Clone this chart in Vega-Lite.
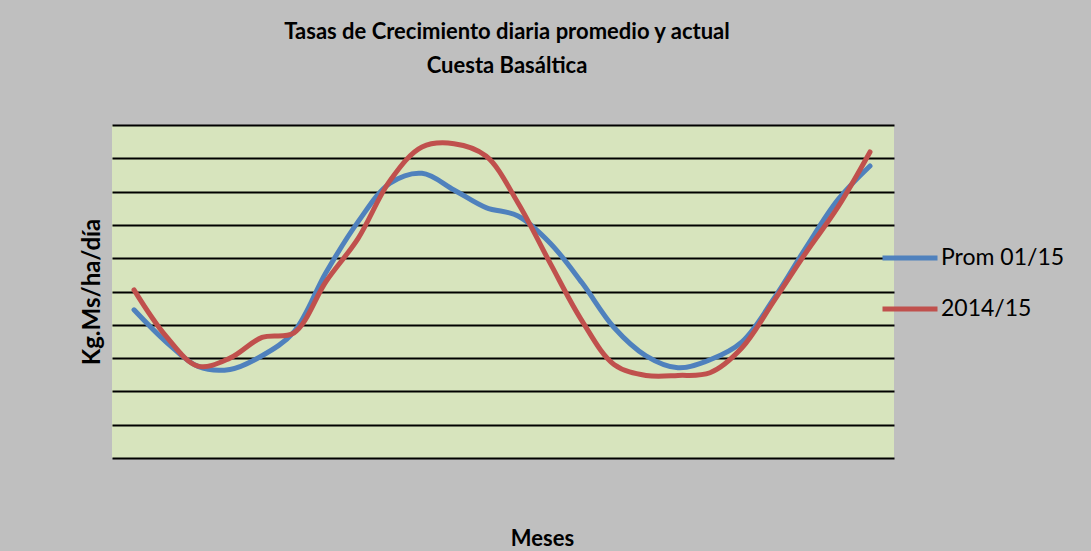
{
  "$schema": "https://vega.github.io/schema/vega-lite/v6.json",
  "width": 782,
  "height": 333,
  "autosize": {"type": "none"},
  "padding": {"left": 112, "top": 125, "right": 197, "bottom": 93},
  "background": "#bfbfbf",
  "title": {
    "text": ["Tasas de Crecimiento  diaria promedio y actual", "Cuesta Basáltica"],
    "font": "Lato", "fontSize": 22, "fontWeight": "bold", "color": "#000000",
    "lineHeight": 34, "anchor": "middle", "offset": 47, "dx": 4
  },
  "config": {
    "view": {"stroke": null, "fill": "#d7e4bd"},
    "legend": {"padding": 0}
  },
  "datasets": {
    "tasas": [
      {"t": 0, "serie": "Prom 01/15", "v": 44.5},
      {"t": 1, "serie": "Prom 01/15", "v": 34.9},
      {"t": 2, "serie": "Prom 01/15", "v": 27.5},
      {"t": 3, "serie": "Prom 01/15", "v": 26.6},
      {"t": 4, "serie": "Prom 01/15", "v": 30.7},
      {"t": 5, "serie": "Prom 01/15", "v": 37.9},
      {"t": 6, "serie": "Prom 01/15", "v": 55.7},
      {"t": 7, "serie": "Prom 01/15", "v": 70.9},
      {"t": 8, "serie": "Prom 01/15", "v": 82.5},
      {"t": 9, "serie": "Prom 01/15", "v": 85.5},
      {"t": 10, "serie": "Prom 01/15", "v": 80.5},
      {"t": 11, "serie": "Prom 01/15", "v": 75.2},
      {"t": 12, "serie": "Prom 01/15", "v": 72.7},
      {"t": 13, "serie": "Prom 01/15", "v": 64.6},
      {"t": 14, "serie": "Prom 01/15", "v": 52.6},
      {"t": 15, "serie": "Prom 01/15", "v": 39.2},
      {"t": 16, "serie": "Prom 01/15", "v": 30.7},
      {"t": 17, "serie": "Prom 01/15", "v": 27.1},
      {"t": 18, "serie": "Prom 01/15", "v": 29.5},
      {"t": 19, "serie": "Prom 01/15", "v": 34.9},
      {"t": 20, "serie": "Prom 01/15", "v": 47.9},
      {"t": 21, "serie": "Prom 01/15", "v": 63.2},
      {"t": 22, "serie": "Prom 01/15", "v": 77.6},
      {"t": 23, "serie": "Prom 01/15", "v": 87.7},
      {"t": 0, "serie": "2014/15", "v": 50.5},
      {"t": 1, "serie": "2014/15", "v": 36.6},
      {"t": 2, "serie": "2014/15", "v": 27.6},
      {"t": 3, "serie": "2014/15", "v": 30.0},
      {"t": 4, "serie": "2014/15", "v": 36.2},
      {"t": 5, "serie": "2014/15", "v": 37.6},
      {"t": 6, "serie": "2014/15", "v": 53.0},
      {"t": 7, "serie": "2014/15", "v": 65.9},
      {"t": 8, "serie": "2014/15", "v": 83.3},
      {"t": 9, "serie": "2014/15", "v": 93.4},
      {"t": 10, "serie": "2014/15", "v": 94.4},
      {"t": 11, "serie": "2014/15", "v": 90.7},
      {"t": 12, "serie": "2014/15", "v": 76.6},
      {"t": 13, "serie": "2014/15", "v": 58.6},
      {"t": 14, "serie": "2014/15", "v": 41.2},
      {"t": 15, "serie": "2014/15", "v": 28.1},
      {"t": 16, "serie": "2014/15", "v": 24.8},
      {"t": 17, "serie": "2014/15", "v": 24.8},
      {"t": 18, "serie": "2014/15", "v": 25.6},
      {"t": 19, "serie": "2014/15", "v": 33.1},
      {"t": 20, "serie": "2014/15", "v": 47.2},
      {"t": 21, "serie": "2014/15", "v": 61.7},
      {"t": 22, "serie": "2014/15", "v": 75.4},
      {"t": 23, "serie": "2014/15", "v": 91.9}
    ]
  },
  "data": {"name": "tasas"},
  "mark": {"type": "line", "interpolate": "catmull-rom", "strokeWidth": 5, "strokeCap": "round", "strokeJoin": "round"},
  "encoding": {
    "x": {
      "field": "t", "type": "quantitative",
      "scale": {"domain": [-0.6875, 23.75], "nice": false, "zero": false},
      "axis": {
        "title": "Meses", "labels": false, "ticks": false, "domain": false, "grid": false,
        "titleFont": "Lato", "titleFontSize": 22, "titleFontWeight": "bold", "titleColor": "#000000",
        "titleX": 430, "titleY": 87, "titleBaseline": "alphabetic", "titleAlign": "center"
      }
    },
    "y": {
      "field": "v", "type": "quantitative",
      "scale": {"domain": [0, 100], "nice": false},
      "axis": {
        "title": "Kg.Ms/ha/día", "values": [0, 10, 20, 30, 40, 50, 60, 70, 80, 90, 100],
        "labels": false, "ticks": false, "domain": false, "grid": true,
        "gridColor": "#000000", "gridWidth": 2, "gridOpacity": 1,
        "titleFont": "Lato", "titleFontSize": 24, "titleFontWeight": "bold", "titleColor": "#000000",
        "titlePadding": 8
      }
    },
    "color": {
      "field": "serie", "type": "nominal",
      "scale": {"domain": ["Prom 01/15", "2014/15"], "range": ["#4f81bd", "#c0504d"]},
      "legend": {
        "title": null, "orient": "none", "legendX": 768, "legendY": 103,
        "symbolType": "stroke", "symbolSize": 3025, "symbolStrokeWidth": 5,
        "labelFont": "Lato", "labelFontSize": 23, "labelColor": "#000000", "labelOffset": 1,
        "rowPadding": 9
      }
    }
  }
}
